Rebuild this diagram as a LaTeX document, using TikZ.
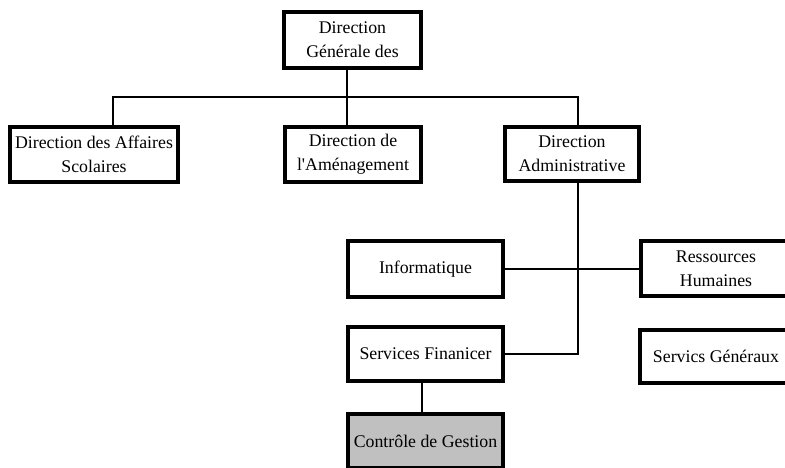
\documentclass[tikz,border=0pt]{standalone}
\usepackage{fontspec}
\setmainfont{Liberation Serif}
\definecolor{boxgray}{HTML}{C0C0C0}
\begin{document}
\begin{tikzpicture}[x=1pt,y=-1pt,
  orgbox/.style={draw, line width=4pt, inner sep=0pt, outer sep=0pt, align=center,
    font=\fontsize{17.8}{24}\selectfont, fill=white},
  link/.style={line width=2pt, line join=miter}]
\useasboundingbox (0,0) rectangle (785,468);
\clip (0,0) rectangle (785,468);
% boxes
\node[orgbox, minimum width=137, minimum height=56] (top) at (352.5,40) {Direction\\Générale des};
\node[orgbox, minimum width=168, minimum height=55] (aff) at (94,154.5) {Direction des Affaires\\Scolaires};
\node[orgbox, minimum width=136, minimum height=55] (amen) at (353,154.5) {Direction de\\l\textquotesingle Aménagement};
\node[orgbox, minimum width=134, minimum height=54] (adm) at (572,154) {Direction\\Administrative};
\node[orgbox, minimum width=155, minimum height=56] (info) at (425.5,269) {Informatique};
\node[orgbox, minimum width=150, minimum height=55] (rh) at (716,268.5) {Ressources\\Humaines};
\node[orgbox, minimum width=155, minimum height=54] (fin) at (425.5,354) {Services Finanicer};
\node[orgbox, minimum width=152, minimum height=53] (gen) at (716,356.5) {Servics Généraux};
\node[orgbox, fill=boxgray, minimum width=155, minimum height=54] (ctrl) at (425.5,441) {Contrôle de Gestion};
% columns of the connectors
\coordinate (cA) at (113,97);
\coordinate (cB) at (347,97);
\coordinate (cC) at (578,97);
\coordinate (cD) at (422,400);
% links
\draw[link] (aff.north -| cA) -- (cA) -- (cC) -- (adm.north -| cC);
\draw[link] (top.south -| cB) -- (cB);
\draw[link] (cB) -- (amen.north -| cB);
\draw[link] (adm.south -| cC) |- (fin.east);
\draw[link] (info.east) -- (info.east -| rh.west);
\draw[link] (fin.south -| cD) -- (ctrl.north -| cD);
\end{tikzpicture}
\end{document}
